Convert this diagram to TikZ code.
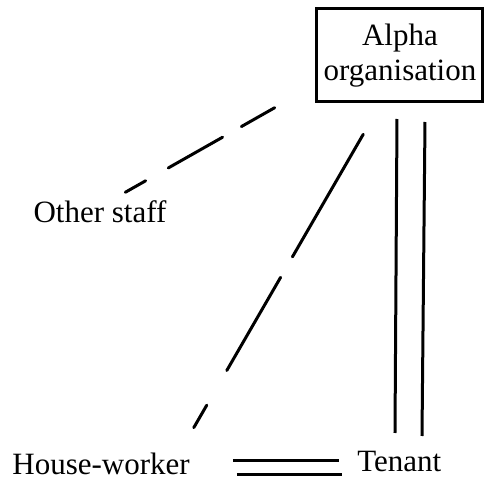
\documentclass[tikz,border=0pt]{standalone}
\usepackage{fontspec}
\setmainfont{Liberation Serif}
\usepackage{tikz}

\begin{document}
\begin{tikzpicture}[
    x=0.5pt, y=-0.5pt,
    lbl/.style={inner sep=0pt, font=\fontsize{15.5}{17.5}\selectfont},
    org/.style={lbl, draw, line width=1.5pt, minimum width=83pt, minimum height=46.5pt, align=center},
    link/.style={line width=1.5pt},
    loose/.style={link, line cap=round}
  ]
    \useasboundingbox (0,0) rectangle (484,482);

    \node[org] (alpha) at (400,55.5) {Alpha\\organisation};
    \node[lbl, anchor=base] (staff) at (100,223) {Other staff};
    \node[lbl, anchor=base west] (worker) at (12,475) {House-worker};
    \node[lbl, anchor=base west] (tenant) at (357,472) {Tenant};

    % loose ends of the broken lines
    \coordinate (staff-a) at (125.3,192.3);
    \coordinate (a-staff) at (274.7,107.7);
    \coordinate (a-worker) at (363.25,134.3);
    \coordinate (worker-a) at (193.75,427.7);
    % ends of the paired lines
    \coordinate (a-tenant1) at (397,119);
    \coordinate (tenant-a1) at (395,433);
    \coordinate (a-tenant2) at (425,122);
    \coordinate (tenant-a2) at (422,436);
    \coordinate (worker-t1) at (233,461);
    \coordinate (tenant-w1) at (339,461);
    \coordinate (worker-t2) at (237,475);
    \coordinate (tenant-w2) at (342,475);

    \draw[loose, dash pattern=on 11.7pt off 13pt on 31.2pt off 10.8pt on 19.4pt off 20pt] (staff-a) -- (a-staff);
    \draw[loose, dash pattern=on 70.8pt off 11.8pt on 53.8pt off 20pt on 13pt off 20pt] (a-worker) -- (worker-a);
    \draw[link] (a-tenant1) -- (tenant-a1);
    \draw[link] (a-tenant2) -- (tenant-a2);
    \draw[link] (worker-t1) -- (tenant-w1);
    \draw[link] (worker-t2) -- (tenant-w2);
\end{tikzpicture}
\end{document}
